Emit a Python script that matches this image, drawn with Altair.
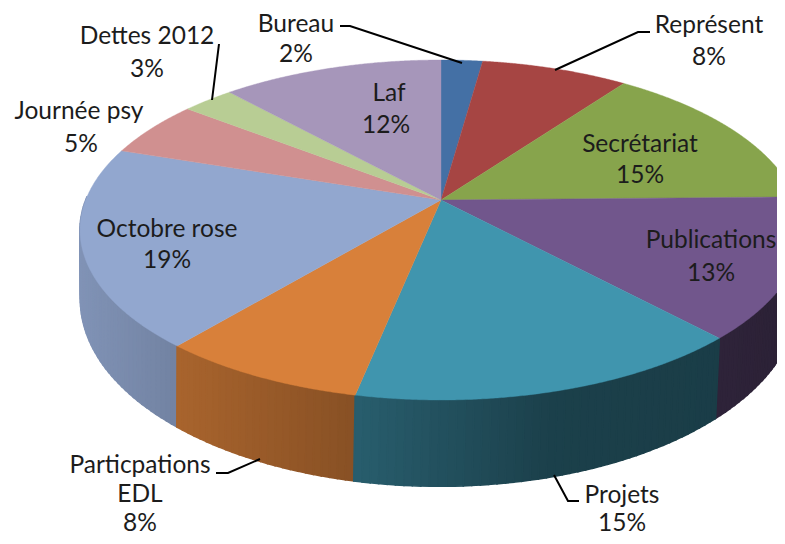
import numpy as np
import altair as alt

# ---- chart values -------------------------------------------------------
CATEGORIES = ["Bureau", "Représent", "Secrétariat", "Publications", "Projets",
              "Particpations EDL", "Octobre rose", "Journée psy", "Dettes 2012", "Laf"]
SHARES = [2.2, 7.8, 14.7, 13.35, 15.15, 7.9, 19.0, 5.4, 2.75, 11.75]
PERCENT_LABELS = ["2%", "8%", "15%", "13%", "15%", "8%", "19%", "5%", "3%", "12%"]

# ---- styles -------------------------------------------------------------
SLICE_COLORS = ["#4470A5", "#A64543", "#87A44C", "#71568C", "#4095AE",
                "#D8803A", "#92A7CF", "#D09090", "#B8CD94", "#A696BA"]
SHADE_X = [80, 180, 354, 550, 720, 800]
SHADE_F = [0.88, 0.78, 0.63, 0.43, 0.41, 0.38]
TEXT_COLOR = "#1c1c1c"
FONT = "Lato"
FONT_SIZE = 24.5

# ---- layout: the perspective of the pie (page pixels) ---------------------
CX, CY, A, B, K = 441.0, 200.0, 355.3, 164.7, 0.1765
CX2, CY2, A2, B2 = 439.0, 266.5, 353.0, 181.0

# annotation layout: text lines (centre x, baseline y) in page pixels
TEXT_LINES = [
    ("Bureau", 296, 32), ("2%", 296, 62),
    ("Dettes 2012", 147, 44), ("3%", 147, 77),
    ("Journée psy", 79, 119), ("5%", 81, 152),
    ("Octobre rose", 167, 237), ("19%", 167, 268),
    ("Laf", 389, 101), ("12%", 386, 133),
    ("Représent", 709, 33), ("8%", 709, 65),
    ("Secrétariat", 640, 152), ("15%", 640, 183),
    ("Publications", 711, 248), ("13%", 711, 281),
    ("Projets", 622, 503), ("15%", 622, 531),
    ("Particpations", 140, 473), ("EDL", 140, 502), ("8%", 140, 531),
]
LEADERS = [
    [(340, 26), (350, 26), (462, 63)],
    [(650, 32), (638, 32), (555, 70)],
    [(219, 44), (212, 100)],
    [(216, 473), (228, 473), (260, 459)],
    [(579, 501), (568, 501), (554, 475)],
]


def top_point(theta):
    u, v = np.sin(theta), np.cos(theta)
    d = 1 + K * v
    return float(CX + A * u / d), float(CY - B * v / d)


def bottom_point(theta):
    u, v = np.sin(theta), np.cos(theta)
    d = 1 + K * v
    return float(CX2 + A2 * u / d), float(CY2 - B2 * v / d)


def shade(color, f):
    rgb = [int(color[i:i + 2], 16) for i in (1, 3, 5)]
    return "#" + "".join(f"{int(round(c * f)):02x}" for c in rgb)


def feature(kind, coords, color, order):
    return {"type": "Feature",
            "geometry": {"type": kind, "coordinates": coords},
            "properties": {"color": color, "order": float(order)}}


edges = np.cumsum([0.0] + SHARES) / sum(SHARES) * 2 * np.pi

walls, faces = [], []
for i, color in enumerate(SLICE_COLORS):
    t0, t1 = edges[i], edges[i + 1]
    n = max(2, int(np.ceil((t1 - t0) / 0.02)))
    ts = np.linspace(t0, t1, n + 1)
    for a, b in zip(ts[:-1], ts[1:]):
        if np.cos((a + b) / 2) > 0.02:
            continue
        pa, pb = top_point(a), top_point(b)
        qa, qb = bottom_point(a), bottom_point(b)
        f = float(np.interp((pa[0] + pb[0]) / 2, SHADE_X, SHADE_F))
        walls.append(feature("Polygon",
                             [[list(pa), list(pb), list(qb), list(qa), list(pa)]],
                             shade(color, f), -np.cos((a + b) / 2)))
    fine = np.linspace(t0, t1, 4 * n + 1)
    ring = [[CX, CY]] + [list(top_point(t)) for t in fine] + [[CX, CY]]
    faces.append(feature("Polygon", [ring], color, 10 + i))

walls.sort(key=lambda w: w["properties"]["order"])

projection = dict(type="identity", scale=1, translate=[-8, -8])


def shapes(features, stroke_width):
    return alt.Chart(alt.Data(values=features)).mark_geoshape(
        strokeWidth=stroke_width
    ).encode(
        fill=alt.Color("properties.color:N", scale=None),
        stroke=alt.Color("properties.color:N", scale=None),
    ).project(**projection)


wall_layer = shapes(walls, 1.6)
face_layer = shapes(faces, 0.4)

leader_layer = alt.Chart(alt.Data(values=[
    feature("LineString", [list(p) for p in pts], "#000000", 0) for pts in LEADERS
])).mark_geoshape(filled=False, stroke="#000000", strokeWidth=2).project(**projection)

text_rows = [{"t": t, "x": x - 8, "y": y - 8} for t, x, y in TEXT_LINES]
text_layer = alt.Chart(alt.Data(values=text_rows)).mark_text(
    font=FONT, fontSize=FONT_SIZE, color=TEXT_COLOR, align="center", baseline="alphabetic"
).encode(
    x=alt.X("x:Q", scale=None, axis=None),
    y=alt.Y("y:Q", scale=None, axis=None),
    text="t:N",
)

chart = alt.layer(wall_layer, face_layer, leader_layer, text_layer).properties(
    width=769, height=528, padding=0,
    autosize=alt.AutoSizeParams(type="none"),
    background="white",
).configure_view(stroke=None)

chart.save("out.html", embed_options={"renderer": "svg", "actions": False})
